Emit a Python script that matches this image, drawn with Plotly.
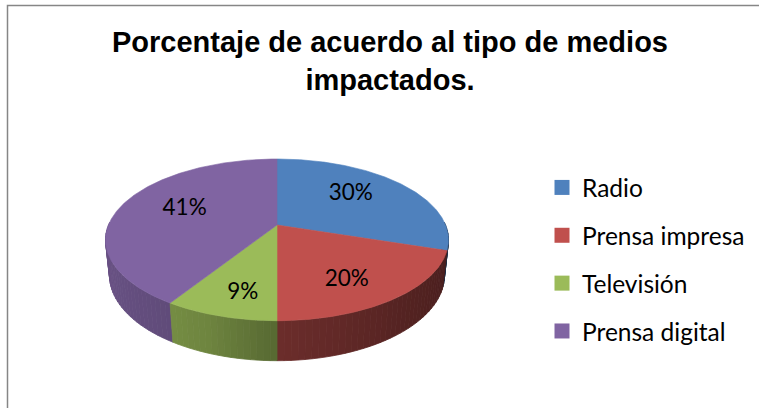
import numpy as np
import plotly.graph_objects as go

# ---------------- data ----------------
categories = ["Radio", "Prensa impresa", "Televisión", "Prensa digital"]
values = [30, 20, 9, 41]
colors = ["#4F81BD", "#C0504D", "#9BBB59", "#8064A2"]
title_text = "Porcentaje de acuerdo al tipo de medios<br>impactados."

# ---------------- 3D pie geometry (style constants, pixel space) ----------------
W, H = 759, 408
CX, CY = 277.0, 225.0        # screen position of the pie centre
ELEV = np.arcsin(0.4635)     # camera elevation
S, C = np.sin(ELEV), np.cos(ELEV)
DIST = 4.823                 # camera distance (unit radius)
FOC = 813.0                  # focal length in pixels
THICK = 0.2394               # pie thickness (unit radius)
LABEL_KX, LABEL_KY = 0.60, 0.75

# light factor for the side wall as a function of angle (degrees, clockwise from 12 o'clock)
LIGHT_ANG = [80, 108, 140, 180, 200, 212, 240, 280]
LIGHT_VAL = [0.34, 0.38, 0.44, 0.56, 0.71, 0.75, 0.80, 0.85]


def proj(theta_deg, r, yw):
    t = np.radians(theta_deg)
    X = r * np.sin(t)
    Z = -r * np.cos(t)
    yc = yw * C - Z * S
    depth = DIST - (Z * C + yw * S)
    return CX + FOC * X / depth, CY - FOC * yc / depth


def shade(hexcol, f):
    h = hexcol.lstrip("#")
    rgb = [int(h[i:i + 2], 16) for i in (0, 2, 4)]
    return "rgb(%d,%d,%d)" % tuple(int(round(v * f)) for v in rgb)


total = float(sum(values))
ends = np.cumsum(values) / total * 360.0
starts = np.concatenate([[0.0], ends[:-1]])

fig = go.Figure()

# ---- side walls (drawn back to front) ----
quads = []
for i in range(len(values)):
    a0, a1 = max(starts[i], 88.0), min(ends[i], 272.0)
    if a1 <= a0:
        continue
    n = max(1, int(np.ceil((a1 - a0) / 2.0)))
    edges = np.linspace(a0, a1, n + 1)
    for ta, tb in zip(edges[:-1], edges[1:]):
        mid = 0.5 * (ta + tb)
        xs, ys = [], []
        for t in np.linspace(ta, tb, 3):
            x, y = proj(t, 1.0, 0.0)
            xs.append(x); ys.append(y)
        for t in np.linspace(tb, ta, 3):
            x, y = proj(t, 1.0, -THICK)
            xs.append(x); ys.append(y)
        xs.append(xs[0]); ys.append(ys[0])
        col = shade(colors[i], float(np.interp(mid, LIGHT_ANG, LIGHT_VAL)))
        quads.append((np.cos(np.radians(mid)), xs, ys, col))

quads.sort(key=lambda q: -q[0])
for _, xs, ys, col in quads:
    fig.add_trace(go.Scatter(x=xs, y=ys, mode="lines", fill="toself",
                             fillcolor=col, line=dict(color=col, width=0.8),
                             hoverinfo="skip", showlegend=False))

# ---- top faces ----
for i in range(len(values)):
    ts = np.linspace(starts[i], ends[i], max(8, int((ends[i] - starts[i]) * 2)))
    xs, ys = [CX], [CY]
    for t in ts:
        x, y = proj(t, 1.0, 0.0)
        xs.append(x); ys.append(y)
    xs.append(CX); ys.append(CY)
    fig.add_trace(go.Scatter(x=xs, y=ys, mode="lines", fill="toself",
                             fillcolor=colors[i], line=dict(color=colors[i], width=0.6),
                             hoverinfo="skip", showlegend=False))

# ---- percentage labels ----
lx, ly, lt = [], [], []
for i, v in enumerate(values):
    mid = 0.5 * (starts[i] + ends[i])
    x, y = proj(mid, 1.0, 0.0)
    lx.append(CX + LABEL_KX * (x - CX))
    ly.append(CY + LABEL_KY * (y - CY))
    lt.append("%d%%" % round(v / total * 100))
fig.add_trace(go.Scatter(x=lx, y=ly, mode="text", text=lt,
                         textposition="middle center",
                         textfont=dict(family="Lato", size=22.5, color="#000000"),
                         hoverinfo="skip", showlegend=False))

# ---- legend entries ----
for i, name in enumerate(categories):
    fig.add_trace(go.Scatter(x=[None], y=[None], mode="markers", name=name,
                             legendgroup=name,
                             marker=dict(symbol="square", size=15, color=colors[i])))

fig.update_layout(
    width=W, height=H,
    margin=dict(l=0, r=0, t=0, b=0),
    paper_bgcolor="white", plot_bgcolor="white",
    xaxis=dict(range=[0, W], visible=False, fixedrange=True),
    yaxis=dict(range=[H, 0], visible=False, fixedrange=True),
    title=dict(text="<b>" + title_text + "</b>",
               font=dict(family="Liberation Sans", size=29, color="#000000"),
               x=390 / W, xanchor="center", xref="paper",
               y=1 - 52 / H, yanchor="top", yref="container"),
    legend=dict(x=542 / W, xanchor="left", y=1 - 165 / H, yanchor="top",
                traceorder="grouped", tracegroupgap=13,
                font=dict(family="Lato", size=24.5, color="#000000"),
                bgcolor="rgba(0,0,0,0)", borderwidth=0),
    shapes=[dict(type="path", path="M 7.5 408 L 7.5 5.5 L 759 5.5",
                 xref="x", yref="y", line=dict(color="#868686", width=1.5))],
)

fig.write_html("out.html", config={"displayModeBar": False},
               post_script="document.body.style.margin='0px';")
